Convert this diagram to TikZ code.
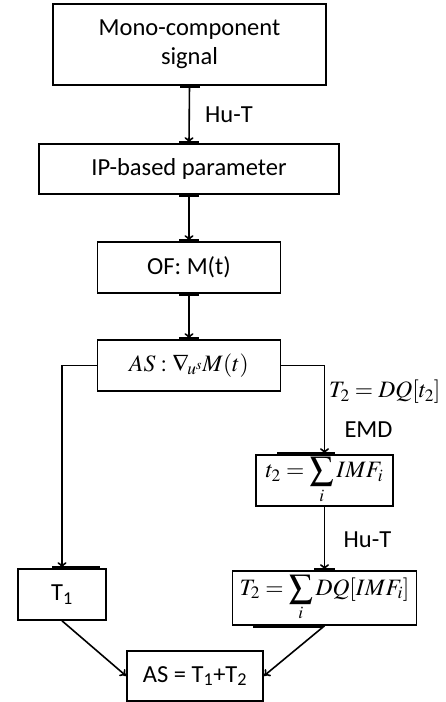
\documentclass[tikz,border=0pt]{standalone}
\usepackage{mathptmx}
\usepackage[no-math]{fontspec}
\setmainfont{Carlito}
\usetikzlibrary{arrows.meta}
\begin{document}
\begin{tikzpicture}[x=1pt,y=1pt,
  box/.style={draw, line width=1.6pt, inner sep=0pt, align=center,
    font=\fontsize{24.5}{29}\selectfont},
  mbox/.style={box, font=\fontsize{23.5}{27}\selectfont},
  lbl/.style={inner sep=0pt, font=\fontsize{24.5}{29}\selectfont},
  mlbl/.style={inner sep=0pt, font=\fontsize{23.5}{27}\selectfont},
  conn/.style={line width=1.6pt},
  arr/.style={conn, -{To[length=6pt,width=9pt]}},
  bar/.style={line width=3.5pt}]
\useasboundingbox (0,0) rectangle (446,-702);

\node[box, minimum width=273pt, minimum height=81pt] (b1) at (189.5,-44.5) {Mono-component\\signal};
\node[box, minimum width=300pt, minimum height=50pt] (b2) at (189,-169) {IP-based parameter};
\node[box, minimum width=183pt, minimum height=51pt] (b3) at (189,-267.5) {OF: M(t)};
\node[mbox, minimum width=183pt, minimum height=51pt] (b4) at (189,-365.5) {$AS:\nabla_{\!u^{s}}M(t)$};
\node[mbox, minimum width=137pt, minimum height=51pt] (b5) at (324.5,-480.5) {$t_2=\displaystyle\sum_{i} IMF_i$};
\node[mbox, minimum width=184pt, minimum height=54pt] (b6) at (324.5,-598) {$T_2=\displaystyle\sum_{i} DQ[IMF_i]$};
\node[box, minimum width=88pt, minimum height=51pt] (t1) at (62,-594.5) {T\textsubscript{1}};
\node[box, minimum width=136pt, minimum height=50pt] (b7) at (195,-676) {AS = T\textsubscript{1}+T\textsubscript{2}};

\draw[arr] (b1.south) -- (b2.north);
\draw[arr] (b2.south) -- (b3.north);
\draw[arr] (b3.south) -- (b4.north);
\draw[arr] (b4.east) -| (b5.north);
\draw[arr] (b5.south) -- (b6.north);
\draw[arr] (b4.west) -| (t1.north);
\draw[arr] (t1.south) -- (b7.west);
\draw[arr] (b6.south) -- (b7.east);

\draw[bar] ([xshift=-10pt]b1.south) -- ([xshift=10pt]b1.south);
\draw[bar] ([xshift=-10pt]b2.north) -- ([xshift=10pt]b2.north);
\draw[bar] ([xshift=-10pt]b2.south) -- ([xshift=10pt]b2.south);
\draw[bar] ([xshift=-10pt]b3.north) -- ([xshift=10pt]b3.north);
\draw[bar] ([xshift=-10pt]b3.south) -- ([xshift=10pt]b3.south);
\draw[bar] ([xshift=-10pt]b4.north) -- ([xshift=10pt]b4.north);
\draw[bar] ([xshift=-47.5pt]b5.north) -- ([xshift=10.5pt]b5.north);
\draw[bar] ([xshift=-10.5pt]b6.north) -- ([xshift=10.5pt]b6.north);
\draw[bar] ([xshift=-71.5pt]b6.south) -- ([xshift=-1.5pt]b6.south);
\draw[bar] ([xshift=-10pt]t1.north) -- ([xshift=38pt]t1.north);

\node[lbl] (l1) at (229,-115) {Hu-T};
\node[mlbl, anchor=west] (l2) at (329,-392) {$T_2=DQ[t_2]$};
\node[lbl] (l3) at (368.5,-430) {EMD};
\node[lbl] (l4) at (367.5,-540) {Hu-T};
\end{tikzpicture}
\end{document}
